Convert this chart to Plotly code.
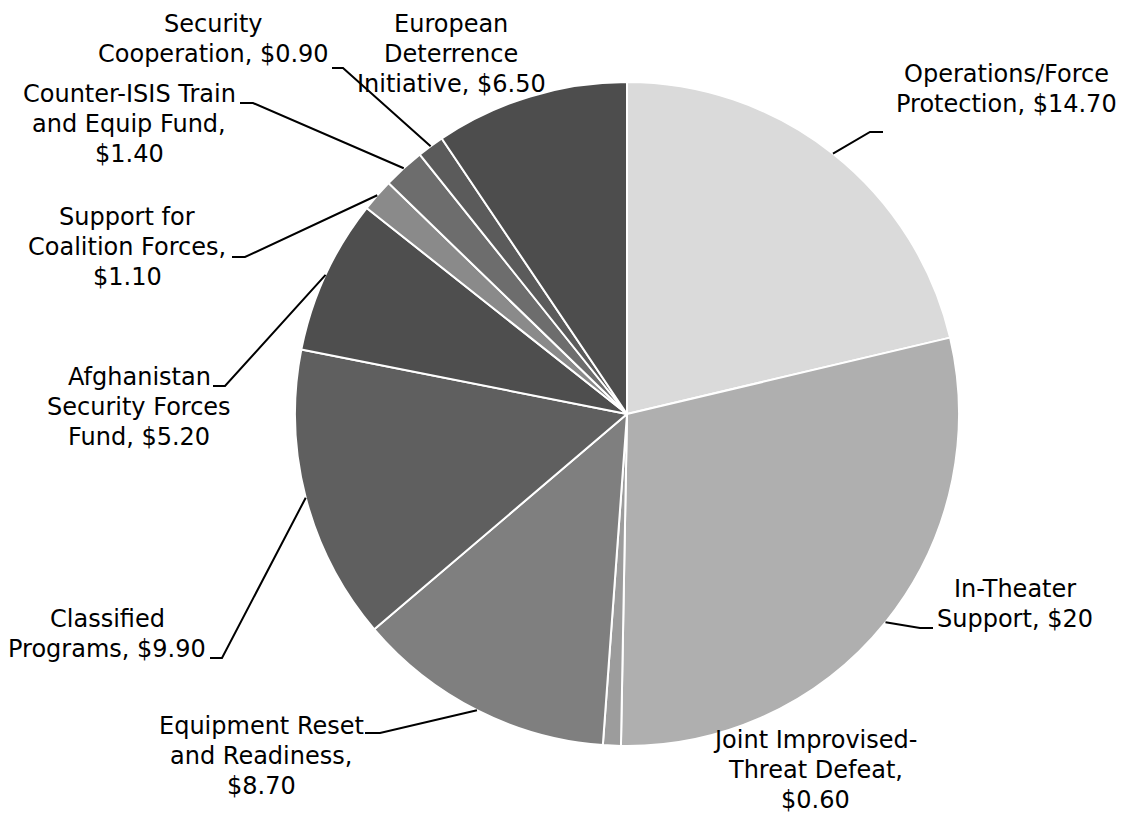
import math
import plotly.graph_objects as go

# ---- data ----
categories = [
    "Operations/Force Protection", "In-Theater Support", "Joint Improvised-Threat Defeat",
    "Equipment Reset and Readiness", "Classified Programs", "Afghanistan Security Forces Fund",
    "Support for Coalition Forces", "Counter-ISIS Train and Equip Fund",
    "Security Cooperation", "European Deterrence Initiative",
]
values = [14.70, 20, 0.60, 8.70, 9.90, 5.20, 1.10, 1.40, 0.90, 6.50]
value_labels = ["$14.70", "$20", "$0.60", "$8.70", "$9.90", "$5.20", "$1.10", "$1.40", "$0.90", "$6.50"]
label_templates = [
    ["Operations/Force", "Protection, {v}"],
    ["In-Theater", "Support, {v}"],
    ["Joint Improvised-", "Threat Defeat,", "{v}"],
    ["Equipment Reset", "and Readiness,", "{v}"],
    ["Classified", "Programs, {v}"],
    ["Afghanistan", "Security Forces", "Fund, {v}"],
    ["Support for", "Coalition Forces,", "{v}"],
    ["Counter-ISIS Train", "and Equip Fund,", "{v}"],
    ["Security", "Cooperation, {v}"],
    ["European", "Deterrence", "Initiative, {v}"],
]
colors = ["#dadada", "#afafaf", "#9c9c9c", "#7f7f7f", "#5f5f5f",
          "#4e4e4e", "#8a8a8a", "#6d6d6d", "#5b5b5b", "#4d4d4d"]

# ---- layout (pixels) ----
W, H = 1121, 815
CX, CY, R = 627, 414, 332
FONT = dict(family="DejaVu Sans", size=24, color="black")
LINE_GAP = 30
# label block: (center x, center y of first line)
label_pos = [(1006, 74), (1015, 589), (815, 740), (261, 726), (107, 619),
             (139, 377), (127, 217), (129, 94), (213, 24), (451, 24)]
# leader elbow: (elbow x, elbow y, end x) or None
elbows = [(870, 132, 883), (920, 628, 933), None, (380, 733, 365), (222, 658, 210),
          (225, 386, 213), (245, 257, 232), (253, 103, 240), (343, 68, 332), None]


def px(x):
    return x / W


def py(y):
    return 1 - y / H


fig = go.Figure(go.Pie(
    labels=categories, values=values, sort=False, direction="clockwise", rotation=0,
    marker=dict(colors=colors, line=dict(color="white", width=2)),
    textinfo="none", hoverinfo="skip", showlegend=False,
    domain=dict(x=[px(CX - R), px(CX + R)], y=[py(CY + R), py(CY - R)]),
))

annotations = []
shapes = []
total = sum(values)
cum = 0.0
for i, v in enumerate(values):
    mid = (cum + v / 2) / total * 2 * math.pi
    cum += v
    sx, sy = CX + R * math.sin(mid), CY - R * math.cos(mid)
    lx, ly = label_pos[i]
    for k, t in enumerate(label_templates[i]):
        annotations.append(dict(
            x=px(lx), y=py(ly + k * LINE_GAP), xref="paper", yref="paper",
            text=t.format(v=value_labels[i]), showarrow=False,
            xanchor="center", yanchor="middle", font=FONT,
        ))
    if elbows[i] is not None:
        ex, ey, hx = elbows[i]
        shapes.append(dict(
            type="path", xref="paper", yref="paper",
            path=f"M {px(sx)},{py(sy)} L {px(ex)},{py(ey)} L {px(hx)},{py(ey)}",
            line=dict(color="black", width=2),
        ))

fig.update_layout(
    width=W, height=H, margin=dict(l=0, r=0, t=0, b=0),
    paper_bgcolor="white", plot_bgcolor="white",
    annotations=annotations, shapes=shapes,
)
fig.write_html("out.html", config={"displayModeBar": False},
               post_script="document.body.style.margin='0';")
